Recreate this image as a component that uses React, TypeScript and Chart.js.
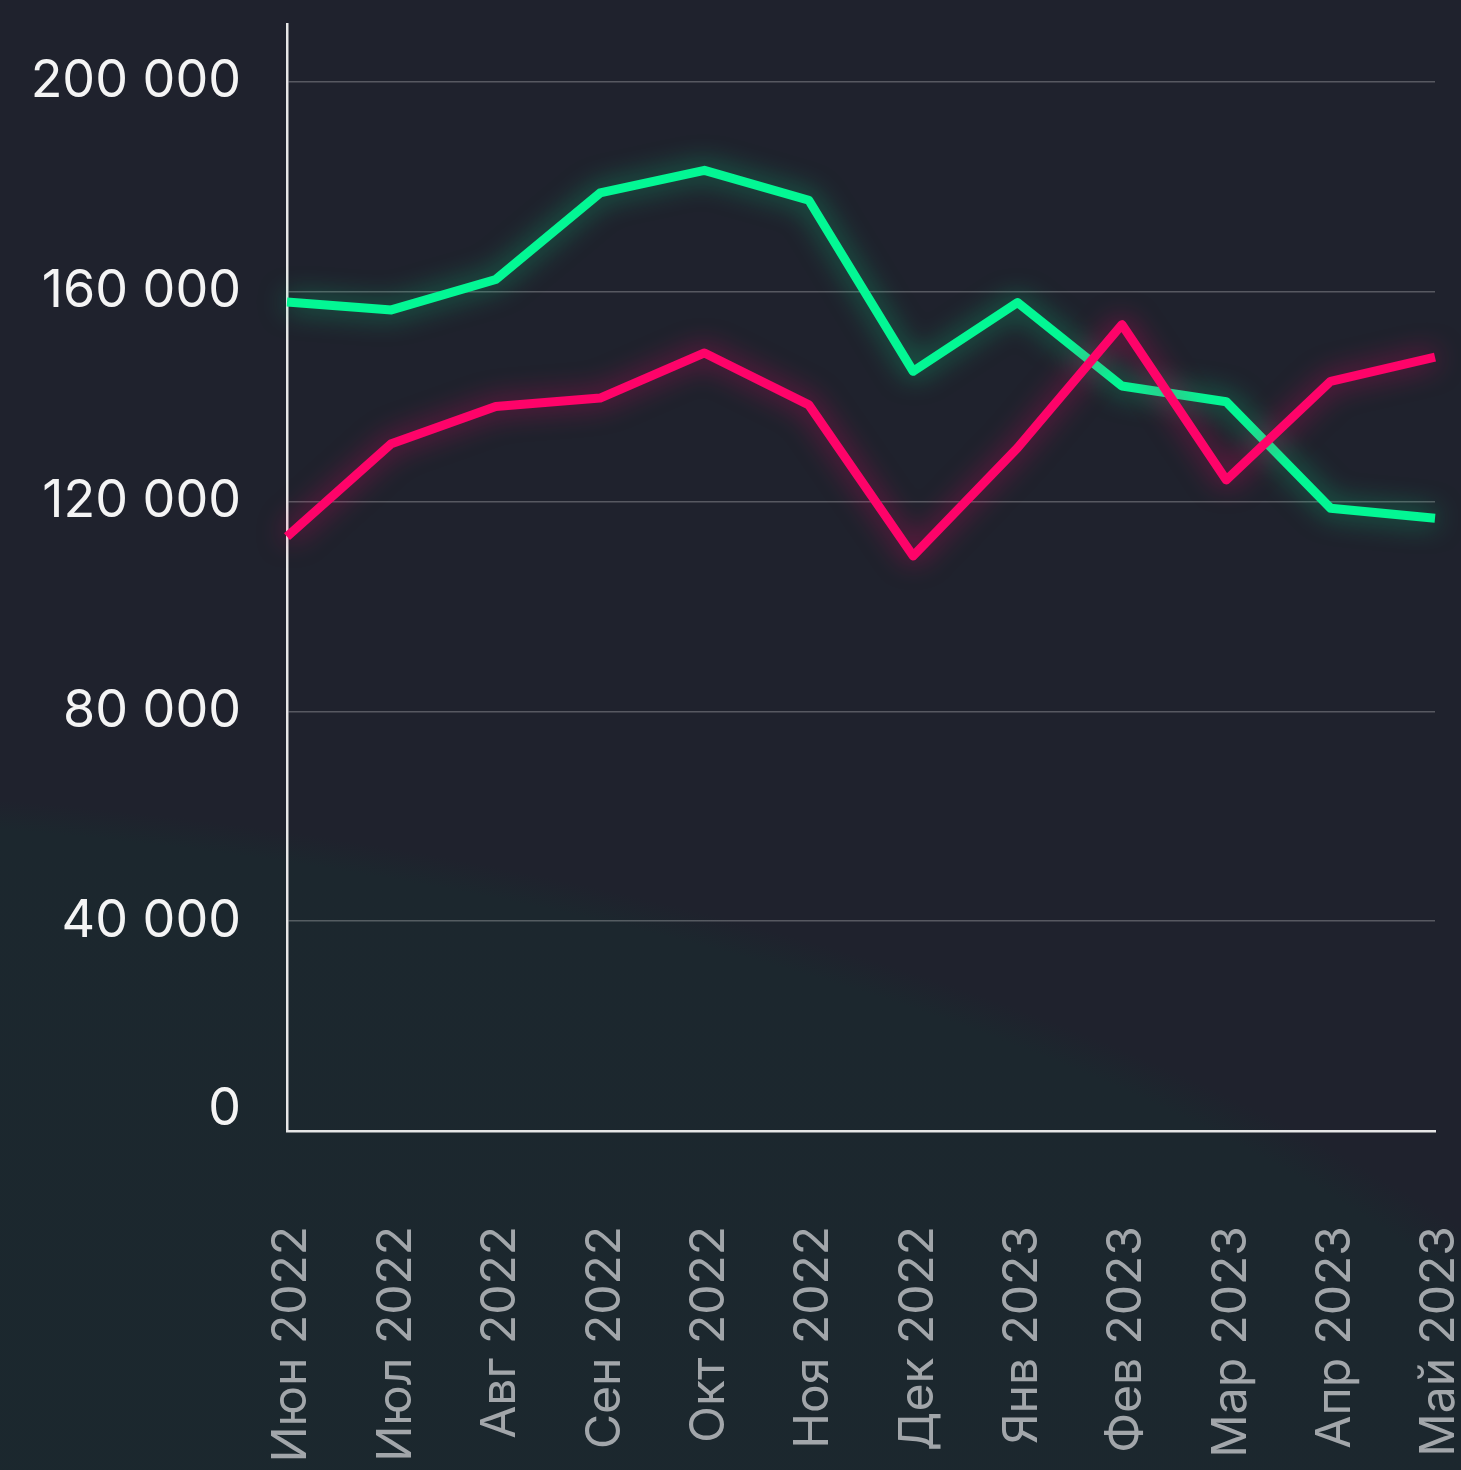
import React, { useEffect, useRef } from 'react';
import { Chart, registerables } from 'chart.js';

Chart.register(...registerables);

const categories = [
  'Июн 2022', 'Июл 2022', 'Авг 2022', 'Сен 2022', 'Окт 2022', 'Ноя 2022',
  'Дек 2022', 'Янв 2023', 'Фев 2023', 'Мар 2023', 'Апр 2023', 'Май 2023',
];
const greenValues = [158000, 156500, 162300, 178800, 183100, 177400, 144800, 157900, 142000, 139000, 118700, 116800];
const redValues = [113300, 131000, 138100, 139700, 148300, 138400, 109600, 130200, 153700, 124100, 142900, 147500];
const yTickValues = [0, 40000, 80000, 120000, 160000, 200000];
const yMax = 211000;

const GREEN = '#03f794';
const RED = '#fe0369';
const FONT = 'Inter, "Open Sans", sans-serif';

const formatNum = (v: number) => String(v).replace(/\B(?=(\d{3})+(?!\d))/g, ' ');

const glowPlugin = {
  id: 'glow',
  beforeDatasetDraw(chart: any, args: any) {
    const ds: any = chart.data.datasets[args.index];
    const ctx = chart.ctx;
    ctx.save();
    ctx.shadowColor = ds.glowColor;
    ctx.shadowBlur = 28;
    ctx.shadowOffsetX = 0;
    ctx.shadowOffsetY = 0;
  },
  afterDatasetDraw(chart: any) {
    chart.ctx.restore();
  },
};

export default function App() {
  const ref = useRef<HTMLCanvasElement | null>(null);

  useEffect(() => {
    document.body.style.margin = '0';
    const canvas = ref.current;
    if (!canvas) return;
    const chart = new Chart(canvas, {
      type: 'line',
      data: {
        labels: categories,
        datasets: [
          {
            label: 'red',
            data: redValues,
            borderColor: RED,
            borderWidth: 9,
            pointRadius: 0,
            tension: 0,
            borderJoinStyle: 'round',
            borderCapStyle: 'butt',
            clip: false,
            glowColor: 'rgba(254,3,105,0.6)',
          } as any,
          {
            label: 'green',
            data: greenValues,
            borderColor: GREEN,
            borderWidth: 9,
            pointRadius: 0,
            tension: 0,
            borderJoinStyle: 'round',
            borderCapStyle: 'butt',
            clip: false,
            glowColor: 'rgba(3,247,148,0.55)',
          } as any,
        ],
      },
      options: {
        animation: false,
        responsive: false,
        devicePixelRatio: 1,
        layout: { padding: { top: 24, right: 26, left: 0, bottom: 0 } },
        plugins: {
          legend: { display: false },
          tooltip: { enabled: false },
        },
        scales: {
          x: {
            type: 'category',
            offset: false,
            grid: { display: false, drawTicks: false },
            border: { display: true, color: '#e6e6e6', width: 2.5 },
            ticks: {
              color: '#a2a6aa',
              font: { family: FONT, size: 48 },
              minRotation: 90,
              maxRotation: 90,
              autoSkip: false,
              padding: 95,
              labelOffset: 5,
            },
            afterFit: (s: any) => {
              s.height = 339;
              s.paddingLeft = 0;
              s.paddingRight = 0;
            },
          },
          y: {
            min: 0,
            max: yMax,
            afterBuildTicks: (axis: any) => {
              axis.ticks = yTickValues.map((v) => ({ value: v }));
            },
            grid: { color: 'rgba(255,255,255,0.25)', lineWidth: 1.5, drawTicks: false },
            border: { display: true, color: '#e6e6e6', width: 2.5 },
            ticks: {
              color: '#f4f4f4',
              font: { family: FONT, size: 52, lineHeight: 0.85 },
              padding: 46,
              callback: (v: any) => (Number(v) === 0 ? ['0', ''] : formatNum(Number(v))),
            },
            afterFit: (s: any) => {
              s.width = 287;
              s.paddingTop = 0;
              s.paddingBottom = 0;
            },
          },
        },
      } as any,
      plugins: [glowPlugin],
    });
    return () => chart.destroy();
  }, []);

  return (
    <div
      style={{
        width: 1461,
        height: 1470,
        position: 'relative',
        overflow: 'hidden',
        background:
          'radial-gradient(ellipse 2212px 966px at -400px 1750px, #1b282e 0%, #1c272e 97%, #1f222d 100%), #1f222d',
      }}
    >
      <canvas ref={ref} width={1461} height={1470} style={{ display: 'block' }} />
    </div>
  );
}
